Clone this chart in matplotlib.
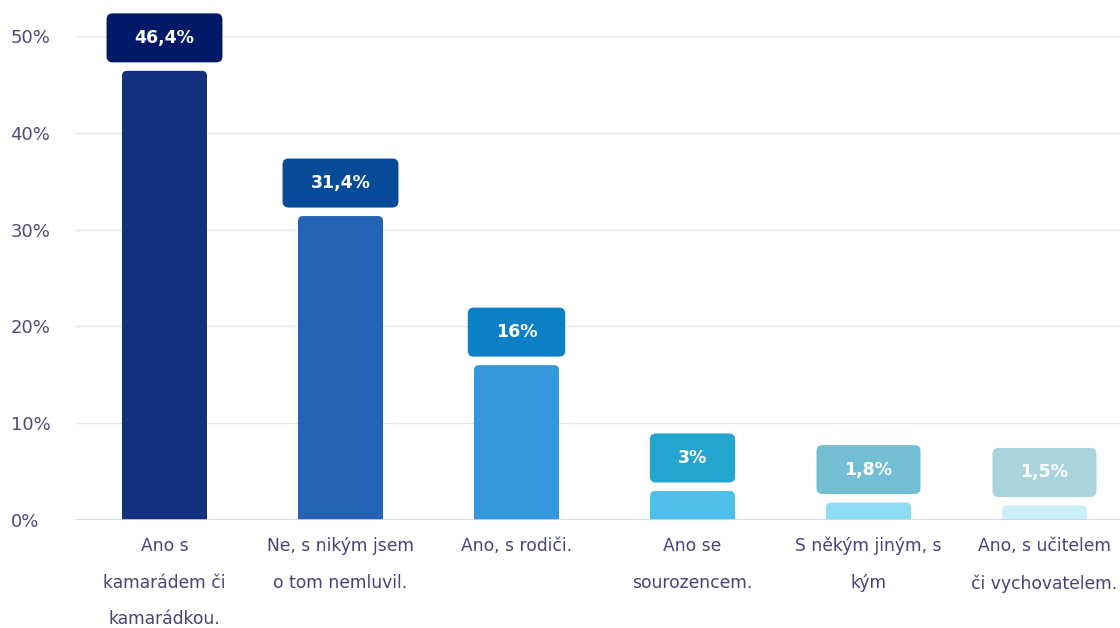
import matplotlib.pyplot as plt
from matplotlib.patches import FancyBboxPatch
from matplotlib.transforms import IdentityTransform

# Données du graphique
categories = ['Ano s\nkamarádem či\nkamarádkou.', 'Ne, s nikým jsem\no tom nemluvil.',
              'Ano, s rodiči.', 'Ano se\nsourozencem.', 'S někým jiným, s\nkým',
              'Ano, s učitelem\nči vychovatelem.']
values = [46.4, 31.4, 16, 3, 1.8, 1.5]
value_labels = ['46,4%', '31,4%', '16%', '3%', '1,8%', '1,5%']
bar_colors = ['#13307f', '#2563b4', '#3597db', '#4fc0ec', '#8edcf3', '#ccf0f9']
box_colors = ['#011a68', '#054b98', '#0b80c6', '#22a6cf', '#73bed3', '#aad4dc']
yticks = [0, 10, 20, 30, 40, 50]

W, H = 1120, 628
fig = plt.figure(figsize=(W / 100, H / 100), dpi=100)
plt.rcParams['font.family'] = ['DejaVu Sans']

# axes en pixels : x de 76.5 à 1132.5, y de 0% (520) à 50% (36)
ax = fig.add_axes([76.5 / W, (H - 520) / H, 1056 / W, 484 / H])
ax.set_xlim(-0.5, 5.5)
ax.set_ylim(0, 50)

px_x = 176.0
px_y = 484 / 50.0
bw = 85 / px_x
r = 5 / px_x

for i, v in enumerate(values):
    p = FancyBboxPatch((i - bw / 2, -2), bw, v + 2,
                       boxstyle=f'round,pad=0,rounding_size={r}',
                       mutation_aspect=px_x / px_y,
                       fc=bar_colors[i], ec='none', zorder=3)
    ax.add_patch(p)

# Grille et axes
ax.set_yticks(yticks)
ax.set_yticklabels([f'{t}%' for t in yticks])
ax.yaxis.grid(True, color='#e6e6e6', lw=1)
ax.set_axisbelow(True)
for s in ax.spines.values():
    s.set_visible(False)
ax.axhline(0, color='#ccd6eb', lw=1.2, zorder=4)
ax.tick_params(axis='y', length=0, pad=47.5, labelsize=13, labelcolor='#4b4b7b')
for lab in ax.get_yticklabels():
    lab.set_ha('left')

ax.set_xticks(range(len(categories)))
ax.set_xticklabels(categories, linespacing=2.35)
ax.tick_params(axis='x', length=0, pad=12, labelsize=12.3, labelcolor='#45457a')

# Étiquettes des valeurs
texts = []
for i, v in enumerate(values):
    t = ax.annotate(value_labels[i], (i, v), xytext=(0, 33 * 0.72), textcoords='offset points',
                    ha='center', va='center', color='white', fontsize=12.5, fontweight='bold',
                    zorder=6, annotation_clip=False)
    texts.append(t)

fig.canvas.draw()
for i, t in enumerate(texts):
    bb = t.get_window_extent()
    cx = (bb.x0 + bb.x1) / 2
    cy = ax.transData.transform((i, values[i]))[1] + 33
    bw_px = bb.width + 56
    box = FancyBboxPatch((cx - bw_px / 2, cy - 24.5), bw_px, 49,
                         boxstyle='round,pad=0,rounding_size=6',
                         fc=box_colors[i], ec='none', transform=IdentityTransform(),
                         zorder=5, clip_on=False)
    ax.add_artist(box)

fig.savefig('out.png', dpi=100)
